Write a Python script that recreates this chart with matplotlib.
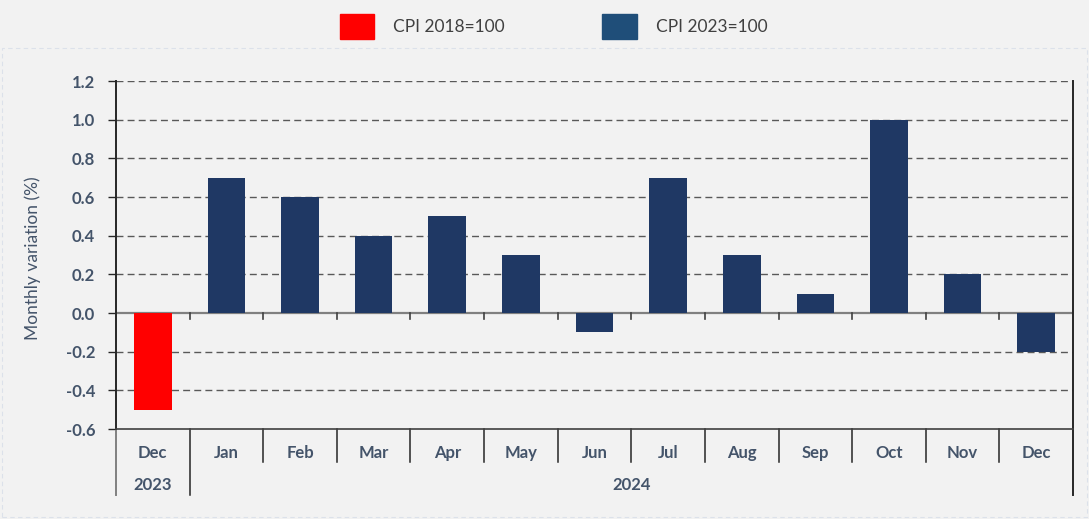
import matplotlib.pyplot as plt
from matplotlib.patches import Patch, Rectangle
import matplotlib.transforms as mtransforms

plt.rcParams['font.family'] = ['Lato', 'DejaVu Sans']

months = ['Dec', 'Jan', 'Feb', 'Mar', 'Apr', 'May', 'Jun', 'Jul', 'Aug', 'Sep', 'Oct', 'Nov', 'Dec']
years = ['2023', '2024']
values = [-0.5, 0.7, 0.6, 0.4, 0.5, 0.3, -0.1, 0.7, 0.3, 0.1, 1.0, 0.2, -0.2]
series = ['CPI 2018', 'CPI 2023', 'CPI 2023', 'CPI 2023', 'CPI 2023', 'CPI 2023', 'CPI 2023',
          'CPI 2023', 'CPI 2023', 'CPI 2023', 'CPI 2023', 'CPI 2023', 'CPI 2023']
legend_labels = ['CPI 2018=100', 'CPI 2023=100']
yticks = [-0.6, -0.4, -0.2, 0.0, 0.2, 0.4, 0.6, 0.8, 1.0, 1.2]

bar_colors = {'CPI 2018': '#FF0000', 'CPI 2023': '#1F3864'}
legend_colors = ['#FF0000', '#1F4E79']
txt = '#44546A'
bg = '#F2F2F2'

fig = plt.figure(figsize=(10.89, 5.19), dpi=100, facecolor=bg)
ax = fig.add_axes([116 / 1089, 1 - 429 / 519, (1073 - 116) / 1089, 348 / 519])
ax.set_facecolor(bg)

# faint dashed frame around chart area
fig.add_artist(Rectangle((2 / 1089, 2 / 519), 1085 / 1089, 469 / 519, transform=fig.transFigure,
                         fill=False, edgecolor='#DCE1EA', linestyle=(0, (4, 3)), lw=0.8))

x = list(range(len(values)))
ax.bar(x, values, width=0.51, color=[bar_colors[s] for s in series], zorder=3)

ax.set_xlim(-0.5, len(values) - 0.5)
ax.set_ylim(-0.6, 1.2)
ax.set_yticks(yticks)
ax.set_yticklabels([f'{v:.1f}' for v in yticks])
for v in yticks[1:]:
    if v != 0:
        ax.axhline(v, color='#595959', lw=1, linestyle=(0, (5, 3)), zorder=1)
ax.axhline(0, color='#808080', lw=1.6, zorder=2)

ax.set_xticks([])
for s in ['top', 'right', 'bottom', 'left']:
    ax.spines[s].set_visible(False)
ax.spines['left'].set_visible(True)
ax.spines['left'].set_color('#262626')
ax.spines['left'].set_linewidth(1.4)
ax.spines['bottom'].set_visible(True)
ax.spines['bottom'].set_color('#404040')
ax.spines['bottom'].set_linewidth(1.2)

ax.tick_params(axis='y', length=6, width=1, color='#262626', pad=9,
               labelsize=12, labelcolor=txt)
for lab in ax.get_yticklabels():
    lab.set_fontweight('bold')

trans = mtransforms.blended_transform_factory(ax.transData, ax.transAxes)

# small ticks on zero line
for i in range(len(values) - 1):
    ax.plot([i + 0.5, i + 0.5], [0, -0.03], color='#404040', lw=1.2, zorder=2)

# category separators
for i in range(len(values) - 1):
    low = -0.19 if i == 0 else -0.095
    ax.plot([i + 0.5, i + 0.5], [0, low], transform=trans, color='#262626', lw=1.1, clip_on=False)
ax.plot([-0.5, -0.5], [0, -0.19], transform=trans, color='#808080', lw=1.4, clip_on=False)
ax.plot([len(values) - 0.5] * 2, [-0.19, 1], transform=trans, color='#262626', lw=1.4, clip_on=False)

for i, m in enumerate(months):
    ax.text(i, -0.068, m, transform=trans, ha='center', va='center',
            fontsize=12, fontweight='bold', color=txt)
ax.text(0, -0.162, years[0], transform=trans, ha='center', va='center',
        fontsize=12, fontweight='bold', color=txt)
ax.text((1 + len(values) - 1) / 2, -0.162, years[1], transform=trans, ha='center', va='center',
        fontsize=12, fontweight='bold', color=txt)

fig.text(33 / 1089, 1 - 258 / 519, 'Monthly variation (%)', rotation=90, ha='center', va='center',
         fontsize=12.5, color=txt)

handles = [Patch(facecolor=c, edgecolor=c) for c in legend_colors]
fig.legend(handles, legend_labels, loc='upper left', bbox_to_anchor=(324 / 1089, 1.004),
           ncol=2, frameon=False, fontsize=12.5, handlelength=2.0, handleheight=1.85,
           handletextpad=1.1, columnspacing=5.6, labelcolor='#404040')

fig.savefig('out.png', dpi=100, facecolor=bg)
